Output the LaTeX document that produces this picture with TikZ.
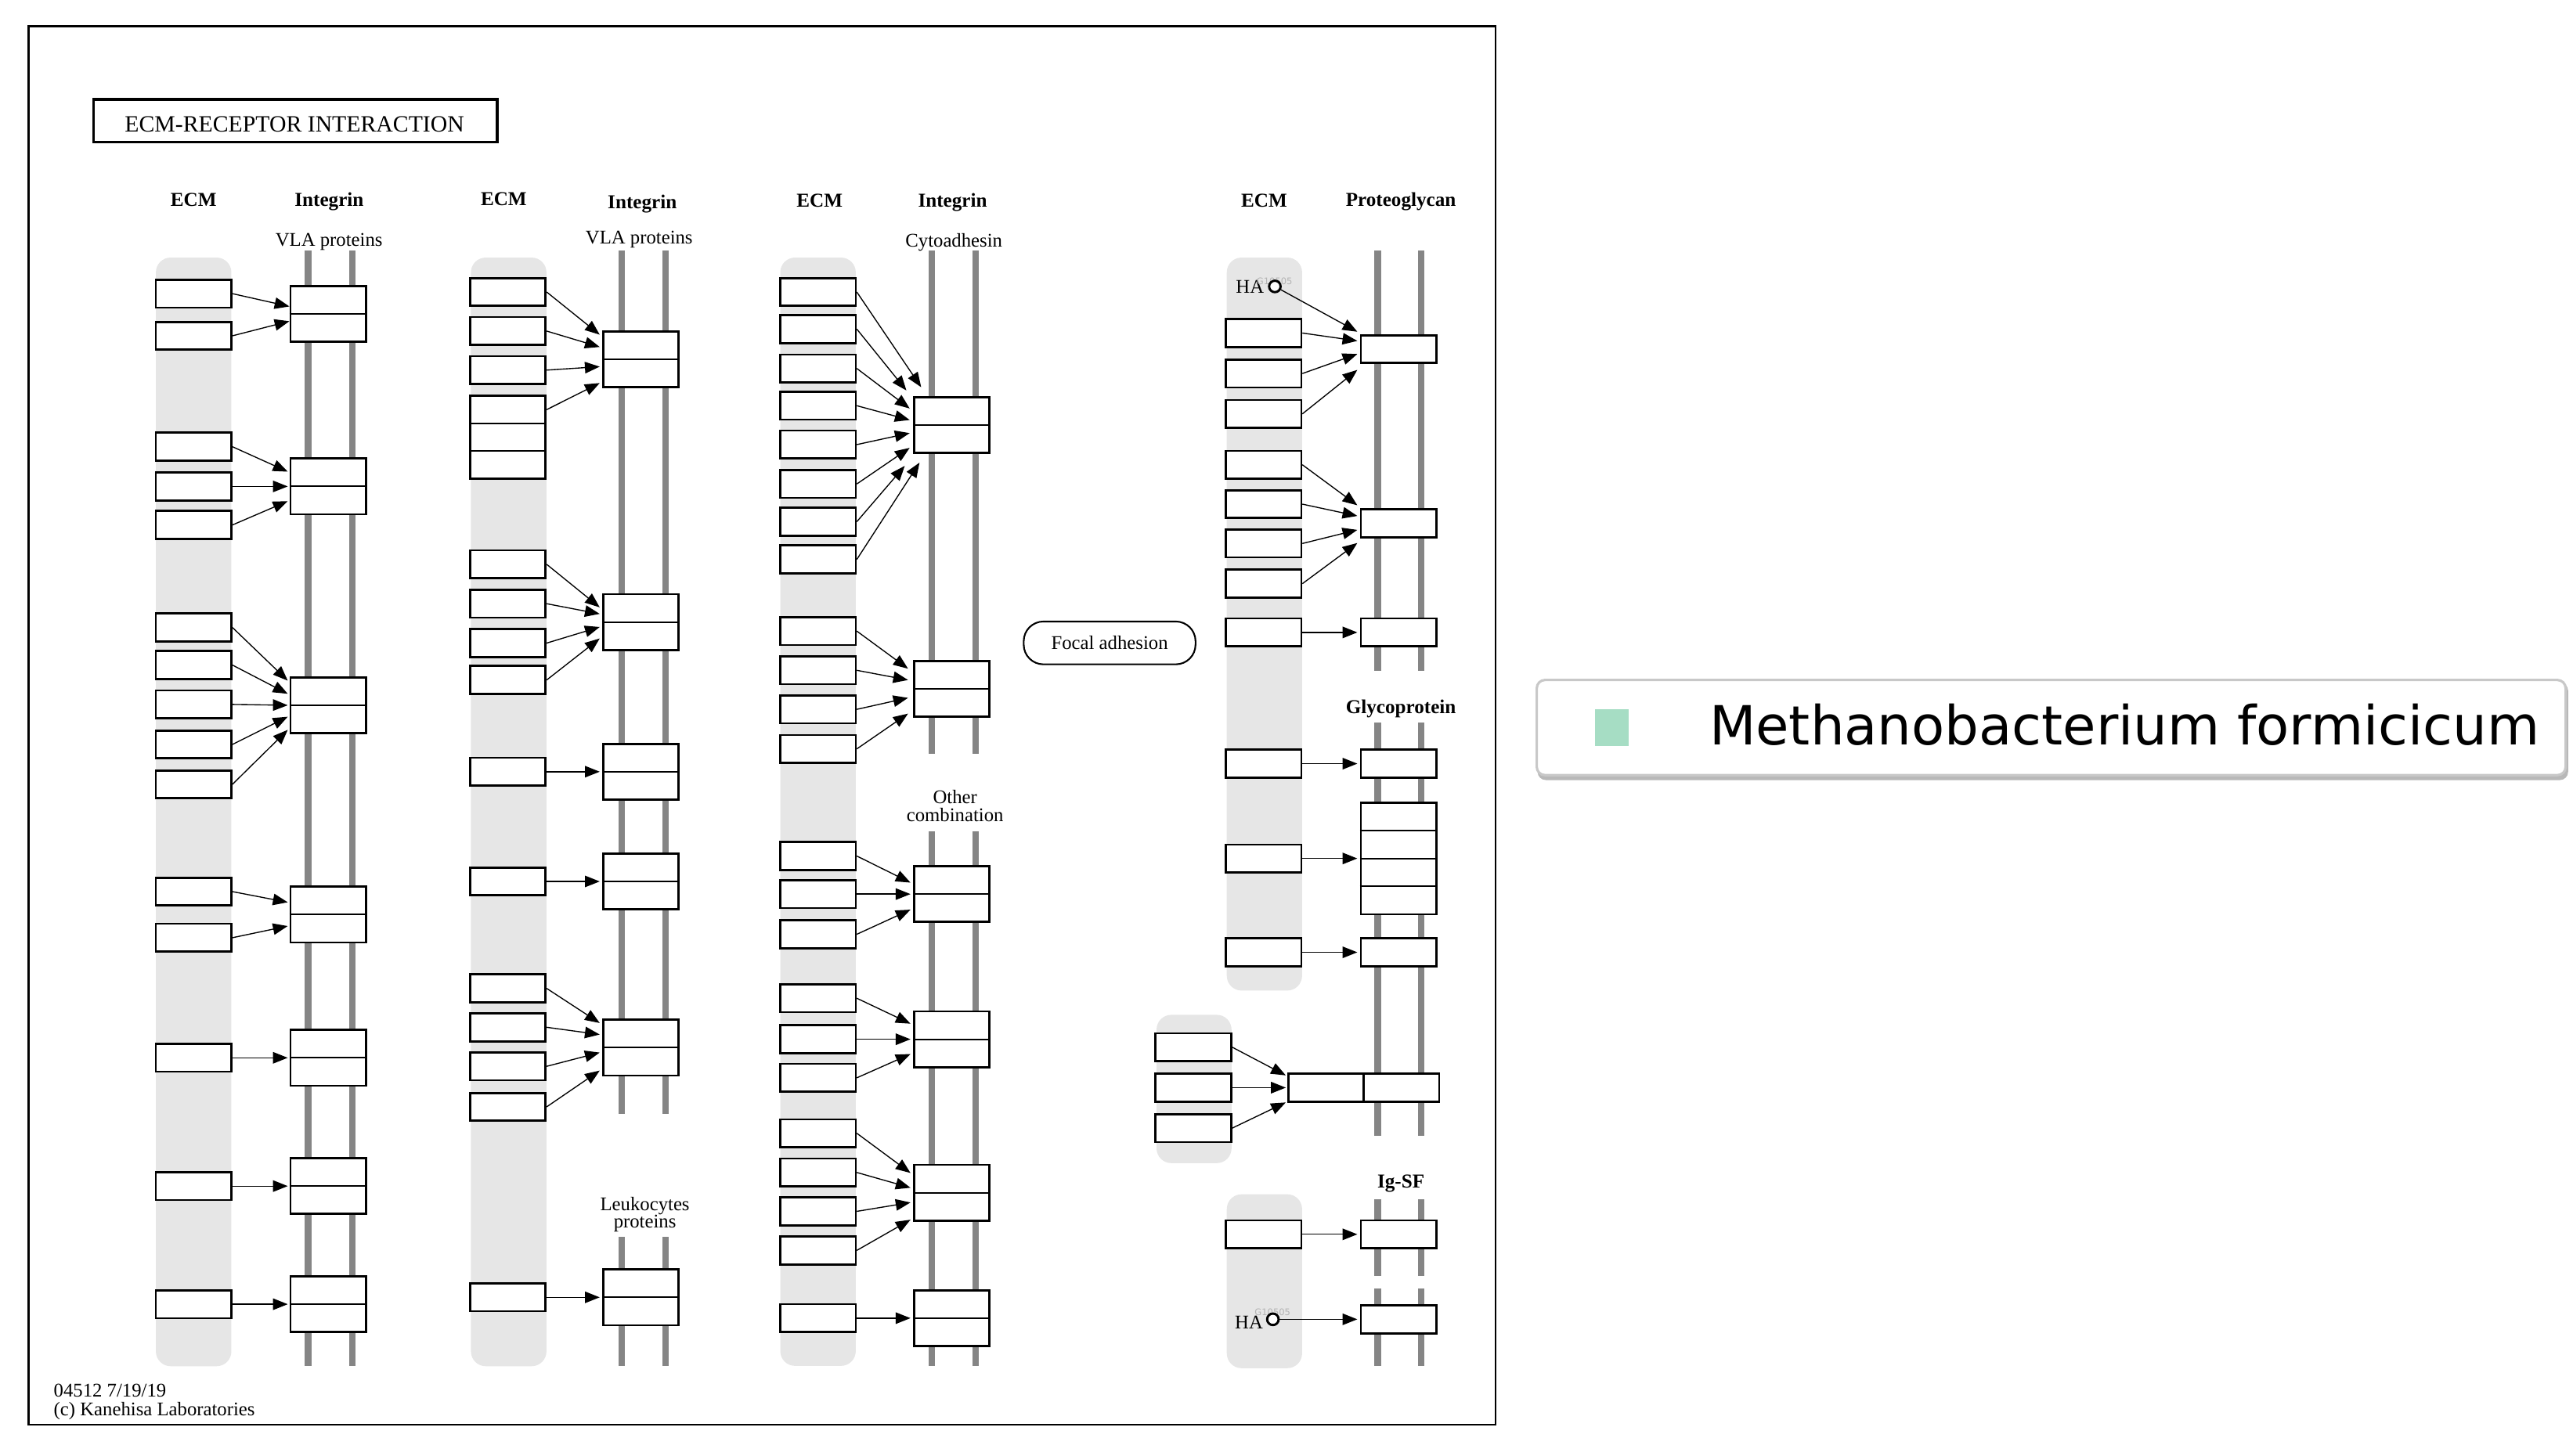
\documentclass[tikz,border=0pt]{standalone}
\usepackage{fontspec}
\setmainfont{Liberation Serif}
\newfontfamily\legendfont{DejaVu Sans}
\usetikzlibrary{arrows.meta}
\definecolor{bandgray}{HTML}{E6E6E6}
\definecolor{memgray}{HTML}{858585}
\definecolor{legsq}{HTML}{A6DDC4}
\definecolor{legborder}{HTML}{C8C8C8}
\definecolor{legshadow}{HTML}{B8B8B8}
\definecolor{faint}{HTML}{B4B4B4}
\tikzset{
  band/.style={fill=bandgray, rounded corners=9pt},
  mem/.style={draw=memgray, line width=4pt},
  ebox/.style={draw, line width=1.3pt, fill=white, minimum width=46pt, minimum height=17pt, inner sep=0pt},
  rbox/.style={ebox, minimum height=34pt},
  midline/.style={line width=1pt},
  arr/.style={-{Triangle[length=9pt,width=7pt]}, line width=0.65pt},
  hdr/.style={font=\fontsize{12}{14}\selectfont\bfseries, anchor=base, inner sep=0pt},
  sub/.style={font=\fontsize{11.8}{13}\selectfont, anchor=base, inner sep=0pt},
  hacirc/.style={circle, draw, line width=1.4pt, fill=white, minimum size=7pt, inner sep=0pt},
}
\newcommand{\rcp}[3]{\node[rbox] (#1) at (#2,#3) {}; \draw[midline] (#1.west) -- (#1.east);}
\newcommand{\ecm}[3]{\node[ebox] (#1) at (#2,#3) {};}
\newcommand{\ar}[4]{\draw[arr] (#1.east) -- ([xshift=#3pt,yshift=#4pt]#2.west);}
\begin{document}
\begin{tikzpicture}[x=1pt,y=-1pt]
\useasboundingbox (0,0) rectangle (1568,887.07);
% frame
\draw[line width=1pt] (17.4,16) rectangle (911.5,868.5);
\node[draw, line width=1.7pt, minimum width=246pt, minimum height=25.9pt, inner sep=0pt] (titlebox) at (180,73.65) {};
\node[anchor=base, inner sep=0pt, font=\fontsize{14.2}{16}\selectfont] (title) at (179.5,80.5) {ECM-RECEPTOR INTERACTION};

% ================= Column 1 =================
\fill[band] (95,157) rectangle (141,832.8);
\draw[mem] (187.7,152.9) -- (187.7,832.8);
\draw[mem] (214.6,152.9) -- (214.6,832.8);
\node[hdr] (h1a) at (118,125.7) {ECM};
\node[hdr] (h1b) at (200.6,125.7) {Integrin};
\node[sub] (s1) at (200.5,150.2) {VLA proteins};
\rcp{aR1}{200}{191.3}
\rcp{aR2}{200}{296.5}
\rcp{aR3}{200}{429.9}
\rcp{aR4}{200}{557.5}
\rcp{aR5}{200}{644.8}
\rcp{aR6}{200}{723}
\rcp{aR7}{200}{795}
\ecm{a11}{118}{179}
\ecm{a12}{118}{204.7}
\ecm{a21}{118}{272.3}
\ecm{a22}{118}{296.5}
\ecm{a23}{118}{320}
\ecm{a31}{118}{382.5}
\ecm{a32}{118}{405.4}
\ecm{a33}{118}{429.4}
\ecm{a34}{118}{453.8}
\ecm{a35}{118}{478.1}
\ecm{a41}{118}{543.5}
\ecm{a42}{118}{571.6}
\ecm{a51}{118}{644.8}
\ecm{a61}{118}{723}
\ecm{a71}{118}{795}
\ar{a11}{aR1}{0}{4.5}
\ar{a12}{aR1}{0}{-4.5}
\ar{a21}{aR2}{-1}{9}
\ar{a22}{aR2}{-1}{0}
\ar{a23}{aR2}{-1}{-9}
\ar{a31}{aR3}{-1}{15}
\ar{a32}{aR3}{-1}{7}
\ar{a33}{aR3}{-1}{0}
\ar{a34}{aR3}{-1}{-7}
\ar{a35}{aR3}{-1}{-15}
\ar{a41}{aR4}{-1}{7.5}
\ar{a42}{aR4}{-1}{-7}
\ar{a51}{aR5}{-1}{0}
\ar{a61}{aR6}{-1}{0}
\ar{a71}{aR7}{-1}{0}

% ================= Column 2 =================
\fill[band] (287,157) rectangle (333,832.8);
\draw[mem] (378.8,152.9) -- (378.8,678.8);
\draw[mem] (405.5,152.9) -- (405.5,678.8);
\draw[mem] (378.8,754) -- (378.8,832.8);
\draw[mem] (405.5,754) -- (405.5,832.8);
\node[hdr] (h2a) at (307,125.2) {ECM};
\node[hdr] (h2b) at (391.4,127) {Integrin};
\node[sub] (s2) at (389.5,148.7) {VLA proteins};
\node[sub] (s2c) at (393,738) {Leukocytes};
\node[sub] (s2d) at (393,748.5) {proteins};
\rcp{bR1}{390.6}{219}
\rcp{bR2}{390.6}{379.2}
\rcp{bR3}{390.6}{470.4}
\rcp{bR4}{390.6}{537.3}
\rcp{bR5}{390.6}{638.6}
\rcp{bR6}{390.6}{790.8}
\ecm{b11}{309.5}{178}
\ecm{b12}{309.5}{201.8}
\ecm{b13}{309.5}{225.6}
\node[ebox, minimum height=16.83pt] (b14a) at (309.5,249.7) {};
\node[ebox, minimum height=16.83pt] (b14b) at (309.5,266.5) {};
\node[ebox, minimum height=16.83pt] (b14c) at (309.5,283.3) {};
\ecm{b21}{309.5}{344}
\ecm{b22}{309.5}{368}
\ecm{b23}{309.5}{392}
\ecm{b24}{309.5}{414.5}
\ecm{b31}{309.5}{470.4}
\ecm{b41}{309.5}{537.3}
\ecm{b51}{309.5}{602.5}
\ecm{b52}{309.5}{626.2}
\ecm{b53}{309.5}{650}
\ecm{b54}{309.5}{674.7}
\ecm{b61}{309.5}{790.8}
\ar{b11}{bR1}{-1.5}{15}
\ar{b12}{bR1}{-1.5}{7.5}
\ar{b13}{bR1}{-1.5}{-4.5}
\ar{b14a}{bR1}{-1.5}{-14.5}
\ar{b21}{bR2}{-1.5}{9}
\ar{b22}{bR2}{-1.5}{5}
\ar{b23}{bR2}{-1.5}{-3}
\ar{b24}{bR2}{-1.5}{-10}
\ar{b31}{bR3}{-1.5}{0}
\ar{b41}{bR4}{-1.5}{0}
\ar{b51}{bR5}{-1.5}{15}
\ar{b52}{bR5}{-1.5}{8}
\ar{b53}{bR5}{-1.5}{-3}
\ar{b54}{bR5}{-1.5}{-14}
\ar{b61}{bR6}{-1.5}{0}

% ================= Column 3 =================
\fill[band] (475.5,157) rectangle (521.5,832.6);
\draw[mem] (567.8,152.9) -- (567.8,459.7);
\draw[mem] (594.6,152.9) -- (594.6,459.7);
\draw[mem] (567.8,506.8) -- (567.8,832.6);
\draw[mem] (594.6,506.8) -- (594.6,832.6);
\node[hdr] (h3a) at (499.5,126) {ECM};
\node[hdr] (h3b) at (580.5,126) {Integrin};
\node[sub] (s3) at (581.3,150.5) {Cytoadhesin};
\node[sub] (s3c) at (582,489.8) {Other};
\node[sub] (s3d) at (582,500.8) {combination};
\rcp{cR1}{580}{259}
\rcp{cR2}{580}{420}
\rcp{cR3}{580}{545}
\rcp{cR4}{580}{633.5}
\rcp{cR5}{580}{727}
\rcp{cR6}{580}{803.5}
\ecm{c11}{498.5}{178}
\ecm{c12}{498.5}{200.6}
\ecm{c13}{498.5}{224.6}
\ecm{c14}{498.5}{247.3}
\ecm{c15}{498.5}{271}
\ecm{c16}{498.5}{295}
\ecm{c17}{498.5}{318}
\ecm{c18}{498.5}{341}
\ecm{c21}{498.5}{384.7}
\ecm{c22}{498.5}{408.6}
\ecm{c23}{498.5}{432.4}
\ecm{c24}{498.5}{456.5}
\ecm{c31}{498.5}{521.8}
\ecm{c32}{498.5}{545}
\ecm{c33}{498.5}{569.5}
\ecm{c41}{498.5}{608.5}
\ecm{c42}{498.5}{633.5}
\ecm{c43}{498.5}{657}
\ecm{c51}{498.5}{690.8}
\ecm{c52}{498.5}{714.7}
\ecm{c53}{498.5}{738.4}
\ecm{c54}{498.5}{762.2}
\ecm{c61}{498.5}{803.5}
\ar{c11}{cR1}{5}{23}
\ar{c12}{cR1}{-4}{21}
\ar{c13}{cR1}{-2}{10}
\ar{c14}{cR1}{-2}{3}
\ar{c15}{cR1}{-2}{-5}
\ar{c16}{cR1}{-2}{-14}
\ar{c17}{cR1}{-5}{-25}
\ar{c18}{cR1}{4}{-23}
\ar{c21}{cR2}{-3}{12.4}
\ar{c22}{cR2}{-3}{5.5}
\ar{c23}{cR2}{-3}{-5.4}
\ar{c24}{cR2}{-3}{-15}
\ar{c31}{cR3}{-1.5}{7}
\ar{c32}{cR3}{-1.5}{0}
\ar{c33}{cR3}{-1.5}{-9.5}
\ar{c41}{cR4}{-1.5}{9.5}
\ar{c42}{cR4}{-1.5}{0}
\ar{c43}{cR4}{-1.5}{-9}
\ar{c51}{cR5}{-1.5}{12}
\ar{c52}{cR5}{-1.5}{3}
\ar{c53}{cR5}{-1.5}{-6}
\ar{c54}{cR5}{-1.5}{-16.5}
\ar{c61}{cR6}{-1.5}{0}

\node[draw, line width=1pt, rounded corners=12pt, minimum width=104.7pt, minimum height=26.1pt, inner sep=0pt, font=\fontsize{11.8}{13}\selectfont] (focal) at (676.2,391.9) {Focal adhesion};

% ================= Column 4 =================
\fill[band] (747.6,157) rectangle (793.5,603.8);
\fill[band] (704.8,618.6) rectangle (750.5,709);
\fill[band] (747.6,728) rectangle (793.5,834);
\draw[mem] (839.5,152.9) -- (839.5,409);
\draw[mem] (866.2,152.9) -- (866.2,409);
\draw[mem] (839.5,440.5) -- (839.5,692.5);
\draw[mem] (866.2,440.5) -- (866.2,692.5);
\draw[mem] (839.5,731) -- (839.5,778);
\draw[mem] (866.2,731) -- (866.2,778);
\draw[mem] (839.5,785.6) -- (839.5,832.6);
\draw[mem] (866.2,785.6) -- (866.2,832.6);
\node[hdr] (h4a) at (770.4,126) {ECM};
\node[hdr] (h4b) at (853.7,125.5) {Proteoglycan};
\node[hdr] (h4c) at (853.7,435) {Glycoprotein};
\node[hdr] (h4d) at (853.7,724) {Ig-SF};

\node[ebox] (dP1) at (852.3,212.8) {};
\node[ebox] (dP2) at (852.3,319) {};
\node[ebox] (dP3) at (852.3,385.5) {};
\node[ebox] (dG1) at (852.3,465.5) {};
\node[ebox, minimum height=68pt] (dG2) at (852.3,523.3) {};
\draw[midline] ([yshift=17pt]dG2.west) -- ([yshift=17pt]dG2.east);
\draw[midline] (dG2.west) -- (dG2.east);
\draw[midline] ([yshift=-17pt]dG2.west) -- ([yshift=-17pt]dG2.east);
\node[ebox] (dG3) at (852.3,580.5) {};
\node[ebox] (dL1) at (808.2,663) {};
\node[ebox] (dL2) at (854.1,663) {};
\node[ebox] (dI1) at (852.3,752.4) {};
\node[ebox] (dI2) at (852.3,804.2) {};

\node[sub, anchor=base west] (ha1t) at (753,178.9) {HA};
\node[anchor=base, inner sep=0pt, text=faint, font=\legendfont\fontsize{5.5}{6}\selectfont] (ha1g) at (776.7,173.4) {G10505};
\node[hacirc] (ha1) at (776.9,174.6) {};
\ecm{d11}{770}{203}
\ecm{d12}{770}{227.7}
\ecm{d13}{770}{252.3}
\ecm{d21}{770}{283.3}
\ecm{d22}{770}{307.3}
\ecm{d23}{770}{331.3}
\ecm{d24}{770}{355.8}
\ecm{d31}{770}{385.5}
\ecm{dg1}{770}{465.5}
\ecm{dg2}{770}{523.3}
\ecm{dg3}{770}{580.5}
\ecm{e1}{727.2}{638.3}
\ecm{e2}{727.2}{663}
\ecm{e3}{727.2}{687.7}
\ecm{di1}{770}{752.4}
\node[sub, anchor=base west] (ha2t) at (752.4,810.1) {HA};
\node[anchor=base, inner sep=0pt, text=faint, font=\legendfont\fontsize{5.5}{6}\selectfont] (ha2g) at (775.5,801.8) {G10505};
\node[hacirc] (ha2) at (775.7,804.2) {};

\draw[arr] (ha1) -- ([xshift=-1.5pt,yshift=10.6pt]dP1.west);
\ar{d11}{dP1}{-1.5}{5}
\ar{d12}{dP1}{-1.5}{-3}
\ar{d13}{dP1}{-1.5}{-12.7}
\ar{d21}{dP2}{-1.5}{11}
\ar{d22}{dP2}{-1.5}{4.5}
\ar{d23}{dP2}{-1.5}{-4}
\ar{d24}{dP2}{-1.5}{-12}
\ar{d31}{dP3}{-1.5}{0}
\ar{dg1}{dG1}{-1.5}{0}
\ar{dg2}{dG2}{-1.5}{0}
\ar{dg3}{dG3}{-1.5}{0}
\ar{e1}{dL1}{-1}{7.5}
\ar{e2}{dL1}{-1}{0}
\ar{e3}{dL1}{-1}{-9}
\ar{di1}{dI1}{-1.5}{0}
\draw[arr] (ha2) -- ([xshift=-1.5pt]dI2.west);

% footer
\node[sub, anchor=base west] (foot1) at (32.6,851.6) {04512 7/19/19};
\node[sub, anchor=base west] (foot2) at (32.6,862.8) {(c) Kanehisa Laboratories};

% ================= Legend =================
\fill[legshadow, rounded corners=5pt] (937,416) rectangle (1565,475.5);
\node[draw=legborder, fill=white, line width=1.5pt, rounded corners=5pt, minimum width=627pt, minimum height=58pt, inner sep=0pt] (legend) at (1250,443.5) {};
\node[fill=legsq, minimum width=20.9pt, minimum height=22.4pt, inner sep=0pt] (legsquare) at (982.3,443.5) {};
\node[anchor=base west, inner sep=0pt, font=\legendfont\fontsize{32.9}{36}\selectfont] (legtext) at (1041.5,454.2) {Methanobacterium formicicum};
\end{tikzpicture}
\end{document}
